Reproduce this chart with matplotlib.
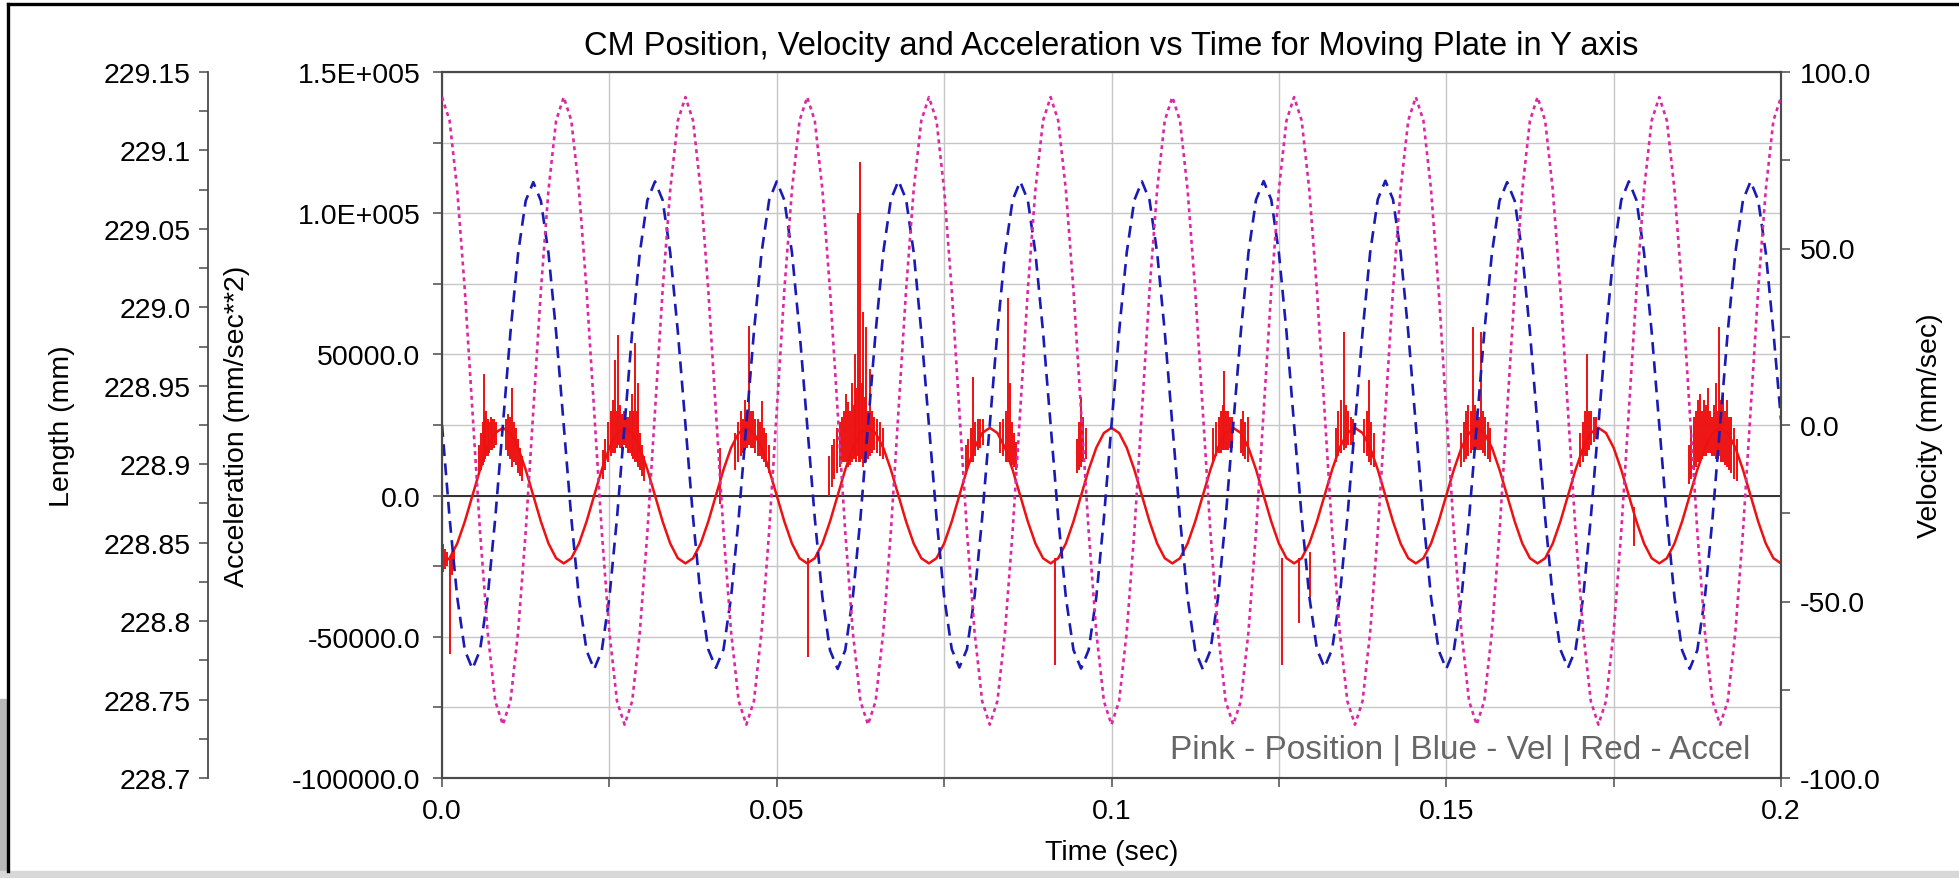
import matplotlib
matplotlib.use('Agg')
import matplotlib.pyplot as plt
from matplotlib.ticker import FixedLocator, MultipleLocator
from matplotlib.patches import Rectangle
import numpy as np

plt.rcParams['font.family'] = ['Liberation Sans', 'DejaVu Sans']

# sample clock of the export: 16 samples per cycle, 11 cycles over 0.2 s
time_s = np.linspace(0.0, 0.2, 177)

# CM position in Y (mm)
position_mm = [
    229.134, 229.119, 229.075, 229.011, 228.934, 228.857, 228.793, 228.749, 228.734, 228.749, 228.793, 228.857, 228.934, 229.011, 229.075, 229.119,
    229.134, 229.119, 229.075, 229.011, 228.934, 228.857, 228.793, 228.749, 228.734, 228.749, 228.793, 228.857, 228.934, 229.011, 229.075, 229.119,
    229.134, 229.119, 229.075, 229.011, 228.934, 228.857, 228.793, 228.749, 228.734, 228.749, 228.793, 228.857, 228.934, 229.011, 229.075, 229.119,
    229.134, 229.119, 229.075, 229.011, 228.934, 228.857, 228.793, 228.749, 228.734, 228.749, 228.793, 228.857, 228.934, 229.011, 229.075, 229.119,
    229.134, 229.119, 229.075, 229.011, 228.934, 228.857, 228.793, 228.749, 228.734, 228.749, 228.793, 228.857, 228.934, 229.011, 229.075, 229.119,
    229.134, 229.119, 229.075, 229.011, 228.934, 228.857, 228.793, 228.749, 228.734, 228.749, 228.793, 228.857, 228.934, 229.011, 229.075, 229.119,
    229.134, 229.119, 229.075, 229.011, 228.934, 228.857, 228.793, 228.749, 228.734, 228.749, 228.793, 228.857, 228.934, 229.011, 229.075, 229.119,
    229.134, 229.119, 229.075, 229.011, 228.934, 228.857, 228.793, 228.749, 228.734, 228.749, 228.793, 228.857, 228.934, 229.011, 229.075, 229.119,
    229.134, 229.119, 229.075, 229.011, 228.934, 228.857, 228.793, 228.749, 228.734, 228.749, 228.793, 228.857, 228.934, 229.011, 229.075, 229.119,
    229.134, 229.119, 229.075, 229.011, 228.934, 228.857, 228.793, 228.749, 228.734, 228.749, 228.793, 228.857, 228.934, 229.011, 229.075, 229.119,
    229.134, 229.119, 229.075, 229.011, 228.934, 228.857, 228.793, 228.749, 228.734, 228.749, 228.793, 228.857, 228.934, 229.011, 229.075, 229.119,
    229.134,
]

# CM velocity in Y (mm/sec), blue curve
velocity_mms = [
    0.0, -26.4, -48.8, -63.8, -69.1, -63.8, -48.8, -26.4, 0.0, 26.3, 48.6, 63.5, 68.8, 63.5, 48.6, 26.3,
    0.0, -26.4, -48.9, -63.9, -69.2, -63.9, -48.9, -26.4, 0.0, 26.4, 48.8, 63.7, 69.0, 63.7, 48.8, 26.4,
    0.0, -26.3, -48.7, -63.6, -68.8, -63.6, -48.7, -26.3, 0.0, 26.4, 48.8, 63.7, 69.0, 63.7, 48.8, 26.4,
    0.0, -26.4, -48.8, -63.8, -69.1, -63.8, -48.8, -26.4, 0.0, 26.4, 48.9, 63.9, 69.2, 63.9, 48.9, 26.4,
    0.0, -26.3, -48.6, -63.5, -68.7, -63.5, -48.6, -26.3, 0.0, 26.4, 48.8, 63.7, 69.0, 63.7, 48.8, 26.4,
    0.0, -26.4, -48.8, -63.7, -69.0, -63.7, -48.8, -26.4, 0.0, 26.4, 48.8, 63.7, 69.0, 63.7, 48.8, 26.4,
    0.0, -26.4, -48.9, -63.9, -69.2, -63.9, -48.9, -26.4, 0.0, 26.4, 48.8, 63.8, 69.1, 63.8, 48.8, 26.4,
    0.0, -26.3, -48.6, -63.5, -68.7, -63.5, -48.6, -26.3, 0.0, 26.4, 48.9, 63.9, 69.2, 63.9, 48.9, 26.4,
    0.0, -26.4, -48.8, -63.8, -69.1, -63.8, -48.8, -26.4, 0.0, 26.3, 48.6, 63.5, 68.8, 63.5, 48.6, 26.3,
    0.0, -26.3, -48.7, -63.6, -68.8, -63.6, -48.7, -26.3, 0.0, 26.4, 48.8, 63.7, 69.0, 63.7, 48.8, 26.4,
    0.0, -26.4, -48.8, -63.8, -69.1, -63.8, -48.8, -26.4, 0.0, 26.4, 48.8, 63.7, 69.0, 63.7, 48.8, 26.4,
    1.5,
]

# smooth part of the CM acceleration (mm/sec**2), red curve
accel_mms2 = [
    -24000, -22170, -16970, -9180, 0, 9180, 16970, 22170, 24000, 22170, 16970, 9180, 0, -9180, -16970, -22170,
    -24000, -22170, -16970, -9180, 0, 9180, 16970, 22170, 24000, 22170, 16970, 9180, 0, -9180, -16970, -22170,
    -24000, -22170, -16970, -9180, 0, 9180, 16970, 22170, 24000, 22170, 16970, 9180, 0, -9180, -16970, -22170,
    -24000, -22170, -16970, -9180, 0, 9180, 16970, 22170, 24000, 22170, 16970, 9180, 0, -9180, -16970, -22170,
    -24000, -22170, -16970, -9180, 0, 9180, 16970, 22170, 24000, 22170, 16970, 9180, 0, -9180, -16970, -22170,
    -24000, -22170, -16970, -9180, 0, 9180, 16970, 22170, 24000, 22170, 16970, 9180, 0, -9180, -16970, -22170,
    -24000, -22170, -16970, -9180, 0, 9180, 16970, 22170, 24000, 22170, 16970, 9180, 0, -9180, -16970, -22170,
    -24000, -22170, -16970, -9180, 0, 9180, 16970, 22170, 24000, 22170, 16970, 9180, 0, -9180, -16970, -22170,
    -24000, -22170, -16970, -9180, 0, 9180, 16970, 22170, 24000, 22170, 16970, 9180, 0, -9180, -16970, -22170,
    -24000, -22170, -16970, -9180, 0, 9180, 16970, 22170, 24000, 22170, 16970, 9180, 0, -9180, -16970, -22170,
    -24000, -22170, -16970, -9180, 0, 9180, 16970, 22170, 24000, 22170, 16970, 9180, 0, -9180, -16970, -22170,
    -24000,
]

# impact noise on the acceleration trace: time, low end, high end (one row per burst)
spike_t = [
    0.0002, 0.0005, 0.0008, 0.0012, 0.0015, 0.0018,
    0.0055, 0.0058, 0.0061, 0.0062, 0.0064, 0.0066, 0.0068, 0.0070, 0.0073, 0.0075, 0.0078, 0.0080,
    0.0096, 0.0099, 0.0102, 0.0105, 0.0107, 0.0110, 0.0113, 0.0116, 0.0119,
    0.0240, 0.0244, 0.0248, 0.0252, 0.0255, 0.0258, 0.0261, 0.0263, 0.0266, 0.0269, 0.0272,
    0.0275, 0.0278, 0.0281, 0.0284, 0.0286, 0.0288, 0.0291, 0.0293, 0.0296, 0.0299, 0.0302,
    0.0415, 0.0438, 0.0442, 0.0446, 0.0450, 0.0453, 0.0456, 0.0459, 0.0462, 0.0465, 0.0468,
    0.0472, 0.0475, 0.0478, 0.0481, 0.0484, 0.0488, 0.0546,
    0.0578, 0.0582, 0.0586, 0.0590, 0.0594, 0.0598, 0.0601, 0.0604, 0.0607, 0.0609, 0.0612, 0.0615, 0.0617, 0.0619,
    0.0621, 0.0623, 0.0625, 0.0627, 0.0629, 0.0632, 0.0634, 0.0637, 0.0640, 0.0643, 0.0646, 0.0650, 0.0654, 0.0658,
    0.0782, 0.0786, 0.0790, 0.0793, 0.0796, 0.0800, 0.0804, 0.0808,
    0.0834, 0.0838, 0.0842, 0.0846, 0.0849, 0.0852, 0.0855, 0.0858, 0.0915,
    0.0948, 0.0952, 0.0955, 0.0958, 0.0962,
    0.1152, 0.1156, 0.1160, 0.1163, 0.1166, 0.1168, 0.1171, 0.1174, 0.1177, 0.1180,
    0.1193, 0.1197, 0.1200, 0.1204, 0.1255, 0.1280, 0.1297,
    0.1335, 0.1339, 0.1343, 0.1347, 0.1350, 0.1353, 0.1357, 0.1360, 0.1377, 0.1381, 0.1385, 0.1388, 0.1392,
    0.1522, 0.1526, 0.1530, 0.1533, 0.1537, 0.1540, 0.1543, 0.1546, 0.1549, 0.1552, 0.1555, 0.1558, 0.1562, 0.1566,
    0.1700, 0.1704, 0.1707, 0.1710, 0.1713, 0.1716, 0.1720, 0.1724, 0.1780,
    0.1862, 0.1866, 0.1870, 0.1873, 0.1876, 0.1879, 0.1882, 0.1885, 0.1888, 0.1891, 0.1894, 0.1897,
    0.1900, 0.1903, 0.1906, 0.1908, 0.1911, 0.1914, 0.1917, 0.1920, 0.1923, 0.1926, 0.1930, 0.1934,
]
spike_lo = [
    -27000, -26000, -25000, -56000, -28000, -26000,
    8000, 9000, 11000, 12000, 13000, 14000, 14000, 15000, 16000, 16000, 17000, 18000,
    16000, 14000, 13000, 10000, 12000, 11000, 8000, 7000, 5000,
    6000, 9000, 12000, 14000, 15000, 15000, 17000, 18000, 17000, 16000, 18000,
    17000, 15000, 15000, 14000, 13000, 12000, 12000, 10000, 9000, 7000, 5000,
    -3000, 9000, 12000, 14000, 15000, 16000, 17000, 18000, 17000, 17000, 15000,
    14000, 14000, 13000, 12000, 10000, 8000, -57000,
    0, 3000, 6000, 8000, 10000, 12000, 12000, 12000, 10000, 11000, 12000, 13000, 14000, 12000,
    14000, 12000, 12000, 13000, 10000, 12000, 12000, 13000, 14000, 15000, 16000, 15000, 14000, 13000,
    8000, 10000, 12000, 12000, 14000, 16000, 17000, 18000,
    15000, 14000, 12000, 12000, 12000, 11000, 10000, 9000, -60000,
    8000, 9000, 10000, 12000, 13000,
    12000, 14000, 15000, 15000, 16000, 16000, 16000, 16000, 17000, 17000,
    15000, 14000, 13000, 12000, -60000, -45000, -36000,
    12000, 14000, 15000, 16000, 17000, 18000, 18000, 18000, 15000, 14000, 12000, 11000, 10000,
    10000, 12000, 13000, 14000, 15000, 16000, 16000, 16000, 16000, 16000, 15000, 14000, 13000, 12000,
    10000, 12000, 14000, 14000, 16000, 18000, 19000, 20000, -18000,
    4000, 6000, 9000, 10000, 12000, 12000, 13000, 14000, 14000, 15000, 15000, 14000,
    14000, 13000, 13000, 14000, 12000, 12000, 11000, 10000, 9000, 8000, 6000, 5000,
]
spike_hi = [
    -17000, -19000, -20000, -22000, -20000, -19000,
    18000, 22000, 26000, 43000, 28000, 30000, 27000, 26000, 28000, 27000, 27000, 26000,
    27000, 29000, 28000, 38000, 26000, 24000, 20000, 17000, 14000,
    16000, 20000, 26000, 30000, 34000, 48000, 30000, 57000, 32000, 29000, 30000,
    28000, 28000, 30000, 36000, 30000, 54000, 30000, 40000, 22000, 18000, 14000,
    17000, 22000, 26000, 30000, 27000, 34000, 28000, 60000, 30000, 30000, 27000,
    27000, 26000, 33500, 24000, 22000, 18000, -22000,
    14000, 18000, 20000, 24000, 26000, 28000, 30000, 36000, 33000, 30000, 40000, 32000, 50000, 38000,
    100000, 45000, 118000, 40000, 65000, 35000, 59700, 30000, 45000, 30000, 28000, 27000, 26000, 24000,
    18000, 20000, 24000, 42000, 26000, 27000, 27000, 27000,
    26000, 27000, 30000, 70000, 40000, 26000, 22000, 19000, -22000,
    20000, 26000, 35000, 28000, 24000,
    24000, 26000, 28000, 30000, 32000, 44000, 30000, 30000, 28000, 28000,
    27000, 30000, 26000, 28000, -22000, -22000, -20000,
    24000, 30000, 34000, 58000, 32000, 30000, 28000, 27000, 27000, 30000, 41000, 26000, 22000,
    22000, 26000, 30000, 32000, 30000, 59700, 32000, 30000, 28000, 58000, 30000, 28000, 26000, 24000,
    22000, 26000, 30000, 50000, 30000, 30000, 28000, 28000, -4000,
    18000, 24000, 28000, 30000, 34000, 36000, 30000, 34000, 32000, 38000, 30000, 28000,
    32000, 40000, 30000, 59700, 34000, 36000, 30000, 34000, 28000, 28000, 24000, 20000,
]

x_ticks = [0.0, 0.05, 0.1, 0.15, 0.2]
x_tick_labels = ['0.0', '0.05', '0.1', '0.15', '0.2']
acc_ticks = [-100000, -50000, 0, 50000, 100000, 150000]
acc_tick_labels = ['-100000.0', '-50000.0', '0.0', '50000.0', '1.0E+005', '1.5E+005']
len_ticks = [228.7, 228.75, 228.8, 228.85, 228.9, 228.95, 229.0, 229.05, 229.1, 229.15]
len_tick_labels = ['228.7', '228.75', '228.8', '228.85', '228.9', '228.95', '229.0', '229.05', '229.1', '229.15']
vel_ticks = [-100, -50, 0, 50, 100]
vel_tick_labels = ['-100.0', '-50.0', '0.0', '50.0', '100.0']

W, H = 1959, 879
fig = plt.figure(figsize=(W / 100, H / 100), dpi=100)


def fx(px):
    return px / W


def fy(py):
    return 1 - py / H


L, R, T, B = 442, 1781, 73, 779
ax = fig.add_axes([fx(L), fy(B), (R - L) / W, (B - T) / H])

spine_col = '#4a4a4a'
red = '#ee1111'
tick_kw = dict(direction='out', length=6.5, width=1.1, color=spine_col,
               labelcolor='black', labelsize=20.5)

# acceleration axis (left) + grid
ax.set_xlim(0, 0.2)
ax.set_ylim(-100000, 150000)
ax.xaxis.set_major_locator(FixedLocator(x_ticks))
ax.set_xticklabels(x_tick_labels)
ax.xaxis.set_minor_locator(MultipleLocator(0.025))
ax.yaxis.set_major_locator(FixedLocator(acc_ticks))
ax.set_yticklabels(acc_tick_labels)
ax.yaxis.set_minor_locator(MultipleLocator(25000))
ax.tick_params(which='both', **tick_kw)
ax.tick_params(axis='y', which='both', pad=9)
ax.tick_params(axis='x', which='both', pad=8)
ax.tick_params(top=False, right=False, which='both')
ax.grid(True, which='both', color='#c6c6c6', linewidth=1.0)
ax.set_axisbelow(True)
for s in ax.spines.values():
    s.set_color(spine_col)
    s.set_linewidth(1.5)
ax.axhline(0, color='#303030', linewidth=1.4, zorder=1.5)

ax.plot(time_s, accel_mms2, color=red, linewidth=1.8, zorder=2)
ax.vlines(spike_t, spike_lo, spike_hi, color=red, linewidth=1.4, zorder=2)

# velocity axis (right)
axv = ax.twinx()
axv.set_ylim(-100, 100)
axv.yaxis.set_major_locator(FixedLocator(vel_ticks))
axv.set_yticklabels(vel_tick_labels)
axv.yaxis.set_minor_locator(MultipleLocator(25))
axv.tick_params(which='both', **tick_kw)
axv.tick_params(axis='y', which='both', pad=7)
for s in axv.spines.values():
    s.set_color(spine_col)
    s.set_linewidth(1.5)
axv.plot(time_s, velocity_mms, color='#1a1ab4', linewidth=1.9,
         linestyle=(0, (4.5, 2.8)))

# length axis (far left, detached)
axl = ax.twinx()
axl.set_ylim(228.7, 229.15)
axl.spines['left'].set_position(('outward', (L - 208) * 0.72))
axl.spines['left'].set_visible(True)
for side in ['right', 'top', 'bottom']:
    axl.spines[side].set_visible(False)
axl.spines['left'].set_color(spine_col)
axl.spines['left'].set_linewidth(1.3)
axl.yaxis.set_ticks_position('left')
axl.yaxis.set_major_locator(FixedLocator(len_ticks))
axl.set_yticklabels(len_tick_labels)
axl.yaxis.set_minor_locator(MultipleLocator(0.025))
axl.tick_params(which='both', **tick_kw)
axl.tick_params(axis='y', which='both', pad=6)
axl.plot(time_s, position_mm, color='#d92aa3', linewidth=1.9,
         linestyle=(0, (1.5, 1.5)))

# titles and axis labels
fig.text(fx((L + R) / 2), fy(46), 'CM Position, Velocity and Acceleration vs Time for Moving Plate in Y axis',
         ha='center', va='center', fontsize=23.5)
fig.text(fx((L + R) / 2), fy(853), 'Time (sec)', ha='center', va='center', fontsize=20.5)
fig.text(fx(62), fy((T + B) / 2), 'Length (mm)', rotation=90, ha='center', va='center', fontsize=20.5)
fig.text(fx(237), fy((T + B) / 2), 'Acceleration (mm/sec**2)', rotation=90, ha='center', va='center', fontsize=20.5)
fig.text(fx(1930), fy((T + B) / 2), 'Velocity (mm/sec)', rotation=90, ha='center', va='center', fontsize=20.5)
fig.text(fx(1750), fy(750), 'Pink - Position | Blue - Vel | Red - Accel', ha='right', va='center',
         fontsize=24, color='#666666')

# window frame of the screenshot
fig.patches.append(Rectangle((0, 0), fx(7), fy(700), transform=fig.transFigure,
                             color='#b8b8b8', zorder=0))
fig.patches.append(Rectangle((0, 0), 1, 7 / H, transform=fig.transFigure,
                             color='#d8d8d8', zorder=0))
fig.add_artist(plt.Line2D([fx(8), fx(8)], [fy(5), fy(872)], color='black', linewidth=2.4))
fig.add_artist(plt.Line2D([fx(8), 1], [fy(5), fy(5)], color='black', linewidth=2.4))

fig.savefig('out.png', dpi=100)
